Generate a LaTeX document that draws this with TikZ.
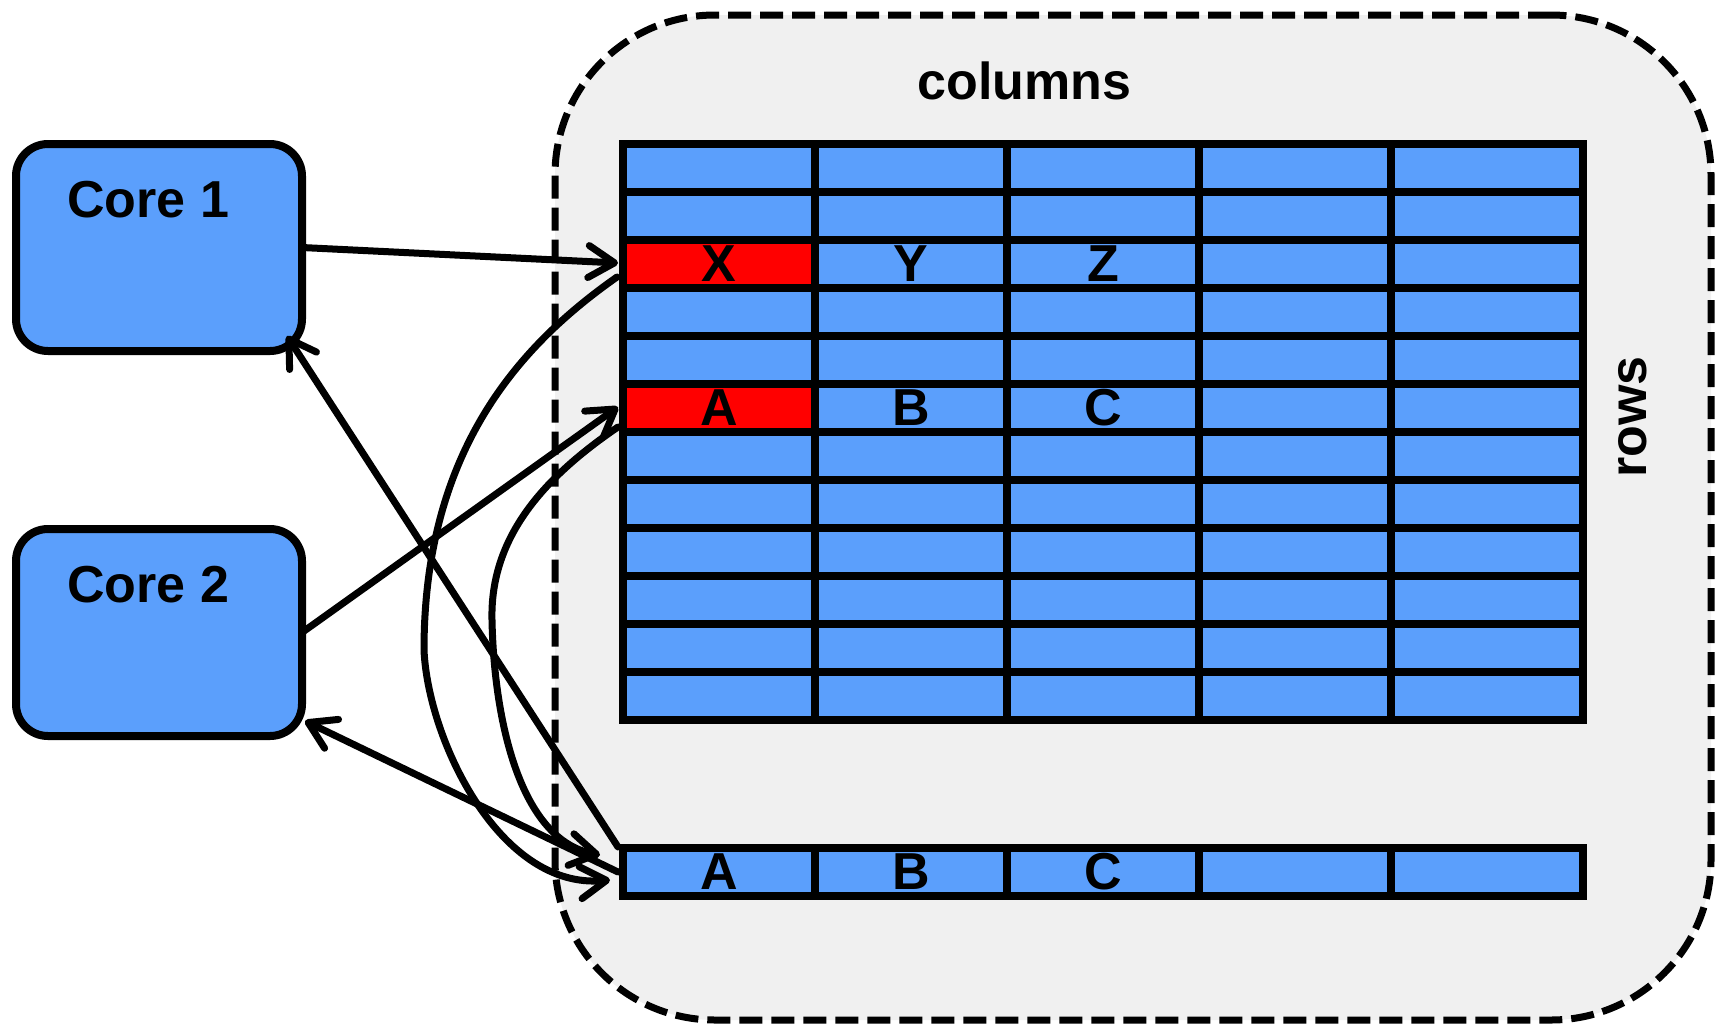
\documentclass[tikz,border=0pt]{standalone}
\usepackage{fontspec}
\setmainfont{Liberation Sans}
\usetikzlibrary{arrows.meta,calc}
\definecolor{cellblue}{RGB}{91,159,252}
\definecolor{cellred}{RGB}{255,0,0}
\definecolor{panelgray}{RGB}{240,240,240}

\begin{document}
\begin{tikzpicture}[x=1pt,y=-1pt,
  bigfont/.style={font=\bfseries\fontsize{52}{60}\selectfont},
  cell/.style={draw=black, line width=8pt, fill=cellblue, minimum width=192pt,
    minimum height=48pt, inner sep=0pt, outer sep=0pt, bigfont},
  hot/.style={cell, fill=cellred},
  core/.style={draw=black, line width=8pt, fill=cellblue, rounded corners=32pt,
    minimum width=286pt, minimum height=207pt, inner sep=0pt, outer sep=0pt},
  panel/.style={draw=black, fill=panelgray, line width=7pt, dash pattern=on 23pt off 9pt,
    rounded corners=160pt, minimum width=1156pt, minimum height=1005pt,
    inner sep=0pt, outer sep=0pt},
  lbl/.style={bigfont, inner sep=0pt},
  link/.style={line width=7pt, line cap=round,
    -{Straight Barb[length=26pt,width=32pt,round]}},
]
\fill[white] (0,0) rectangle (1716,1026);
\useasboundingbox (0,0) rectangle (1716,1026);

% memory array container
\node[panel] (panel) at (1133,517.5) {};
\node[lbl, anchor=base] (cols) at (1024.5,99) {columns};
\node[lbl, anchor=base, rotate=90] (rws) at (1646,417) {rows};

% the two cores
\node[core] (core1) at (159,247.5) {};
\node[core] (core2) at (159,632.5) {};
\node[lbl, anchor=base west] (t1) at ($(core1.north west)+(51,73)$) {Core 1};
\node[lbl, anchor=base west] (t2) at ($(core2.north west)+(51,73)$) {Core 2};

% 12 x 5 array of cells
\foreach \r in {1,...,12}
  \foreach \c in {1,...,5}
    \node[cell] (g-\r-\c) at ({719+192*(\c-1)},{168+48*(\r-1)}) {};
\node[hot]  (g-3-1) at (719,264) {X};
\node[cell] (g-3-2) at (911,264) {Y};
\node[cell] (g-3-3) at (1103,264) {Z};
\node[hot]  (g-6-1) at (719,408) {A};
\node[cell] (g-6-2) at (911,408) {B};
\node[cell] (g-6-3) at (1103,408) {C};

% row buffer
\foreach \c/\t in {1/A,2/B,3/C,4/,5/}
  \node[cell] (b-\c) at ({719+192*(\c-1)},872) {\t};

% writes from the cores
\draw[link] (core1.east) -- ($(g-3-1.west)+(-5,-1)$);
\draw[link] (core2.east) -- ($(g-6-1.west)+(-5,-1)$);

% rows copied into the row buffer
\draw[link] ($(g-3-1.west)+(-6,13)$) .. controls (520,345) and (424,450) .. (424,650)
  .. controls (428,740) and (500,890) .. ($(b-1.west)+(-13,8)$);
\draw[link] ($(g-6-1.west)+(-5,19)$) .. controls (540,480) and (490,540) .. (492,620)
  .. controls (494,720) and (520,840) .. ($(b-1.west)+(-23,-17)$);

% reads back into the cores
\draw[link] ($(b-1.north west)+(-5,-1)$) -- ($(core1.south east)+(-15,-15)$);
\draw[link] ($(b-1.west)+(-5,0)$) -- ($(core2.south east)+(3,-15)$);
\end{tikzpicture}
\end{document}
